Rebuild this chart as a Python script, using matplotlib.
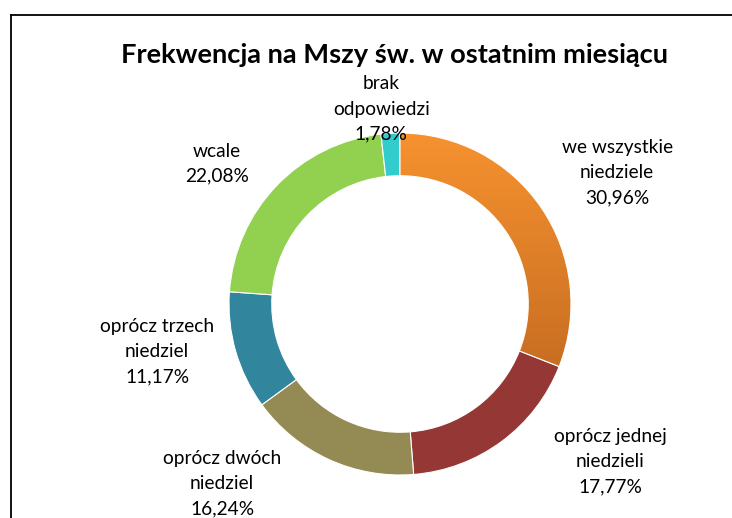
import matplotlib.pyplot as plt
import numpy as np
from matplotlib.colors import LinearSegmentedColormap
from matplotlib.lines import Line2D
from matplotlib.patches import Wedge

# slices, clockwise from 12 o'clock
labels = ['we wszystkie\nniedziele', 'oprócz jednej\nniedzieli', 'oprócz dwóch\nniedziel',
          'oprócz trzech\nniedziel', 'wcale', 'brak\nodpowiedzi']
values = [30.96, 17.77, 16.24, 11.17, 22.08, 1.78]
pct_text = ['30,96%', '17,77%', '16,24%', '11,17%', '22,08%', '1,78%']

colors = ['#F7922F', '#953735', '#948A54', '#31859C', '#92D050', '#33CCCC']
# label centres in pie units (radius = 1)
label_pos = [(1.27, 0.77), (1.23, -0.92), (-1.04, -1.05), (-1.42, -0.28), (-1.07, 0.82), (-0.11, 1.14)]

plt.rcParams['font.family'] = ['Lato', 'DejaVu Sans']

fig = plt.figure(figsize=(7.32, 5.18), dpi=100)
ax = fig.add_axes([0, 0, 1, 1])
ax.axis('off')

wedges, _ = ax.pie(values, colors=colors, startangle=90, counterclock=False, radius=1,
                   wedgeprops=dict(width=0.25, edgecolor='white', linewidth=0.8))
ax.set_aspect('auto')
ax.set_xlim(-400 / 171, 332 / 171)
ax.set_ylim(-214 / 171, 304 / 171)

# orange gradient (lighter on top, darker towards the bottom)
cmap = LinearSegmentedColormap.from_list('orng', ['#C86E22', '#F7922F'])
grad = np.linspace(0, 1, 256).reshape(-1, 1)
w0 = wedges[0]
im = ax.imshow(grad, cmap=cmap, extent=(0, 1.02, -0.38, 1.02), origin='lower',
               aspect='auto', zorder=w0.get_zorder() + 0.1)
im.set_clip_path(w0)
w0.set_facecolor('none')
ax.add_patch(Wedge(w0.center, w0.r, w0.theta1, w0.theta2, width=w0.width,
                   facecolor='none', edgecolor='white', linewidth=0.8,
                   zorder=w0.get_zorder() + 0.2))

for lab, pct, (x, y) in zip(labels, pct_text, label_pos):
    ax.text(x, y, lab + '\n' + pct, ha='center', va='center', fontsize=13.8,
            linespacing=1.58, color='black')

fig.text(394 / 732, 1 - 55 / 518, 'Frekwencja na Mszy św. w ostatnim miesiącu',
         ha='center', va='center', fontsize=19.6, fontweight='bold')

# chart frame (only left and top edges are in view)
fig.add_artist(Line2D([11 / 732, 11 / 732], [0, 1 - 15 / 518], color='black', lw=1.3))
fig.add_artist(Line2D([11 / 732, 1], [1 - 15 / 518, 1 - 15 / 518], color='black', lw=1.3))

fig.savefig('out.png', dpi=100)
